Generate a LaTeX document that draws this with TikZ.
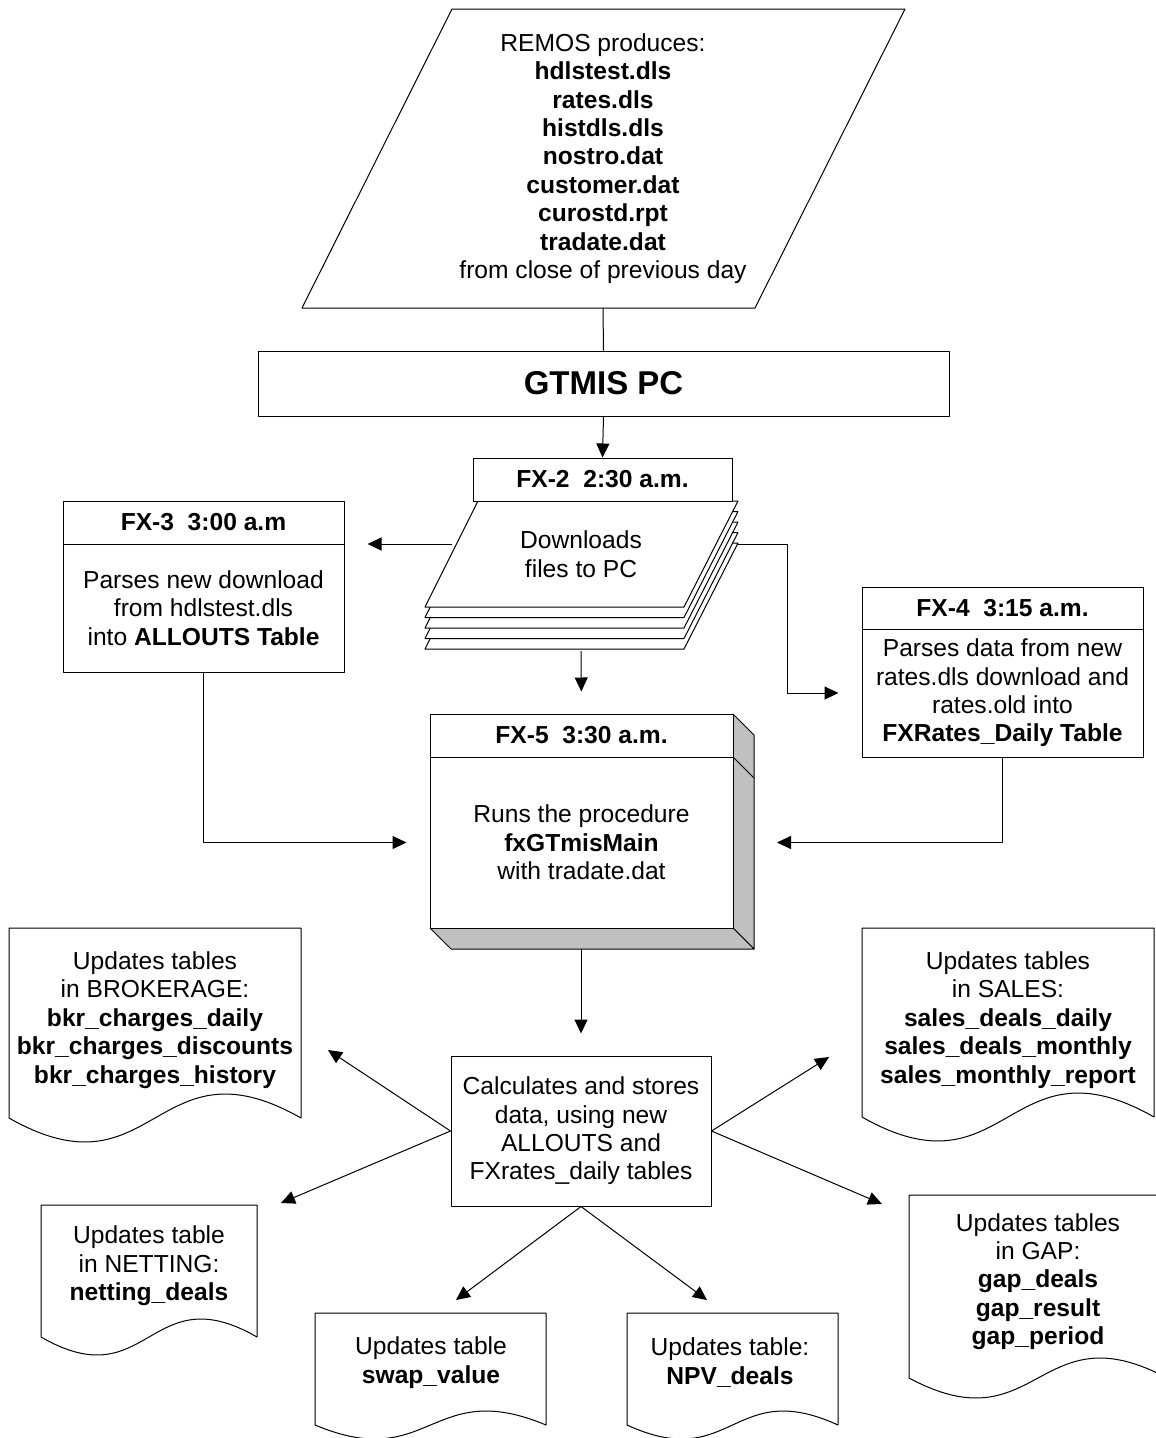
\documentclass[tikz,border=0pt]{standalone}
\usepackage{fontspec}
\setmainfont{Liberation Sans}
\usetikzlibrary{arrows.meta}
\definecolor{shade}{HTML}{C0C0C0}
\begin{document}
\begin{tikzpicture}[x=1pt, y=-1pt, line join=round, >={Triangle[length=14pt,width=13pt]},
	declare function={s=10.5; k=3.46;},
	font=\fontsize{24.6}{28.4}\selectfont,
	box/.style={draw, line width=1pt, fill=white, inner sep=0pt, align=center},
	txt/.style={inner sep=0pt, align=center},
	arr/.style={->, line width=1pt}]
	\useasboundingbox (0,0) rectangle (1156,1438);
	\path 
	(603,308) coordinate (remosB)
	(452,544) coordinate (dlL)
	(737,544) coordinate (dlR)
	(787,544) coordinate (bendR)
	(581,651) coordinate (dlS)
	(581,949) coordinate (fx5B)
	(754,842.5) coordinate (fx5R)
	(328,1050) coordinate (bkrT)
	(281,1203) coordinate (netT)
	(829,1057) coordinate (salT)
	(882,1204) coordinate (gapT)
	(456,1300) coordinate (swT)
	(707,1300) coordinate (npvT)
	;
	% REMOS
	\draw[line width=1pt] (452,9)--(905,9)--(755,308)--(302,308)--cycle;
	\node[txt] (remos) at (603,158.5) {REMOS produces:\\ \textbf{hdlstest.dls}\\ \textbf{rates.dls}\\ \textbf{histdls.dls}\\ \textbf{nostro.dat}\\ \textbf{customer.dat}\\ \textbf{curostd.rpt}\\ \textbf{tradate.dat}\\ from close of previous day};
	\node[box, minimum width=691pt, minimum height=65pt, font=\fontsize{33}{38}\selectfont\bfseries] (gtmis) at (603.5,383.5) {GTMIS PC};
	\draw[line width=1pt] (remosB)--(gtmis.north);
	% FX-2
	\foreach \i in {4,3,2,1,0}
	\draw[line width=1pt, fill=white] (478,{501+\i*s})--(738,{501+\i*s})--(684,{607+\i*s})--(425,{607+\i*s})--cycle;
	\node[txt] (dl) at (581,554) {Downloads\\files to PC};
	\node[box, minimum width=259pt, minimum height=43pt] (fx2) at (602.5,479.5) {\textbf{FX-2~~2:30 a.m.}};
	\draw[arr] (gtmis.south)--(fx2.north);
	% FX-3
	\node[box, minimum width=281pt, minimum height=43pt] (fx3h) at (203.5,522.5) {\textbf{FX-3~~3:00 a.m}};
	\node[box, minimum width=281pt, minimum height=128pt] (fx3) at (203.5,608) {Parses new download\\from hdlstest.dls\\into \textbf{ALLOUTS Table}};
	% FX-4
	\node[box, minimum width=281pt, minimum height=42pt] (fx4h) at (1002.5,608) {\textbf{FX-4~~3:15 a.m.}};
	\node[box, minimum width=281pt, minimum height=128pt] (fx4) at (1002.5,693) {Parses data from new\\rates.dls download and\\rates.old into\\\textbf{FXRates\_Daily Table}};
	% FX-5
	\draw[line width=1pt, fill=shade] (733,714)--(754,735)--(754,949)--(733,928)--cycle;
	\draw[line width=1pt, fill=shade] (430,928)--(733,928)--(754,949)--(451,949)--cycle;
	\draw[line width=1pt] (733,757)--(754,778);
	\node[box, minimum width=303pt, minimum height=43pt] (fx5h) at (581.5,735.5) {\textbf{FX-5~~3:30 a.m.}};
	\node[box, minimum width=303pt, minimum height=171pt] (fx5) at (581.5,842.5) {Runs the procedure\\\textbf{fxGTmisMain}\\with tradate.dat};
	\node[box, minimum width=260pt, minimum height=150pt] (calc) at (581,1131) {Calculates and stores\\data, using new\\ALLOUTS and\\FXrates\_daily tables};
	\draw[arr, shorten >=23pt] (dlL)--(dlL -| fx3h.east);
	\draw[arr, shorten >=23pt] (dlR)--(bendR)|-(fx4.west);
	\draw[arr, shorten >=22pt] (dlS)--(fx5h.north);
	\draw[arr, shorten >=23pt] (fx3.south)|-(fx5.west);
	\draw[arr, shorten >=23pt] (fx4.south)|-(fx5R);
	\draw[arr, shorten >=22pt] (fx5B)--(calc.north);
	% outputs
	\foreach \xl/\xr/\yt/\yb/\am in {9/301/928/1118/24, 41/257/1205/1337/18, 315/546/1313/1425/14, 627/838/1313/1425/14, 862/1154/928/1117/24, 909/1167/1195/1378/20}{
	\draw[line width=1pt, fill=white] (\xl,\yt)--(\xr,\yt)--(\xr,\yb) .. controls ({(\xl+\xr)/2},{\yb-k*\am}) and ({(\xl+\xr)/2},{\yb+k*\am}) .. (\xl,\yb)--cycle;
}
	\node[txt] (bkr) at (155,1020) {Updates tables\\in BROKERAGE:\\\textbf{bkr\_charges\_daily}\\\textbf{bkr\_charges\_discounts}\\\textbf{bkr\_charges\_history}};
	\node[txt] (net) at (149,1266) {Updates table\\in NETTING:\\\textbf{netting\_deals}};
	\node[txt] (swap) at (431,1362.5) {Updates table\\\textbf{swap\_value}};
	\node[txt] (npv) at (730,1362.5) {Updates table:\\\textbf{NPV\_deals}};
	\node[txt] (sales) at (1008,1020) {Updates tables\\in SALES:\\\textbf{sales\_deals\_daily}\\\textbf{sales\_deals\_monthly}\\\textbf{sales\_monthly\_report}};
	\node[txt] (gap) at (1038,1281.5) {Updates tables\\in GAP:\\\textbf{gap\_deals}\\\textbf{gap\_result}\\\textbf{gap\_period}};
	\foreach \a/\b in {calc.west/bkrT, calc.west/netT, calc.east/salT, calc.east/gapT, calc.south/swT, calc.south/npvT}{
	\draw[arr] (\a)--(\b);
}
	\end{tikzpicture}
\end{document}
